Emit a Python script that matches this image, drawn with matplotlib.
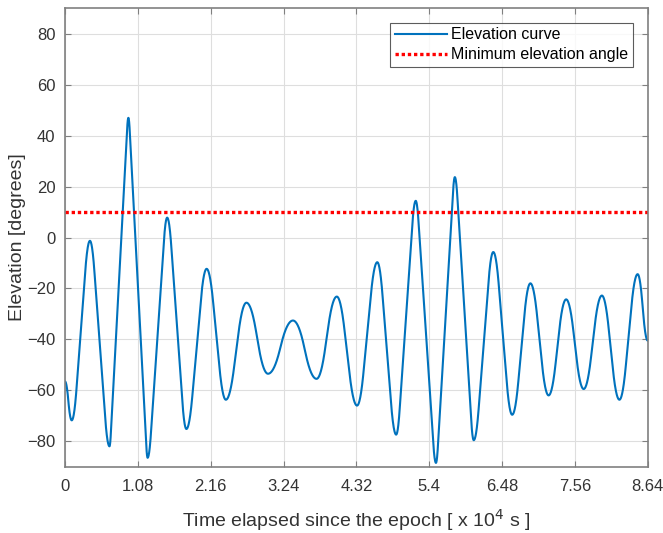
import matplotlib
matplotlib.use("Agg")
import matplotlib.pyplot as plt
import numpy as np

# extrema of the elevation curve (time in 1e4 s, elevation in deg)
peak_times = [0.00, 0.10, 0.37, 0.66, 0.94, 1.225, 1.515, 1.80, 2.10, 2.385, 2.69,
              3.01, 3.38, 3.73, 4.03, 4.33, 4.63, 4.91, 5.20, 5.50, 5.78, 6.06,
              6.35, 6.63, 6.90, 7.17, 7.43, 7.69, 7.96, 8.22, 8.49, 8.64]
peak_elev = [-56.5, -71.8, -1.3, -82.0, 47.0, -86.5, 7.8, -75.2, -12.3, -63.7, -25.6,
             -53.5, -32.6, -55.5, -23.2, -66.0, -9.7, -77.4, 14.4, -88.5, 23.7, -79.6,
             -5.7, -69.6, -18.0, -62.0, -24.3, -59.5, -22.8, -63.7, -14.4, -40.5]
min_elevation = 10.0
x_ticks = [0, 1.08, 2.16, 3.24, 4.32, 5.4, 6.48, 7.56, 8.64]
x_tick_labels = ["0", "1.08", "2.16", "3.24", "4.32", "5.4", "6.48", "7.56", "8.64"]
y_ticks = [-80, -60, -40, -20, 0, 20, 40, 60, 80]

plt.rcParams["font.family"] = ["Liberation Sans", "DejaVu Sans"]


def ease(s, c):
    # linear middle with rounded (quadratic) ends; c = fraction rounded at each end
    v = 1.0 / (1.0 - c)
    w = v * (c / 2 + (s - c))
    lo = s < c
    hi = s > 1 - c
    w[lo] = v * s[lo] ** 2 / (2 * c)
    w[hi] = 1 - v * (1 - s[hi]) ** 2 / (2 * c)
    return w


def smooth_path(xs, ys, n=100):
    # big swings look almost triangular, small ones rounded
    out_x, out_y = [], []
    for i in range(len(xs) - 1):
        s = np.linspace(0, 1, n, endpoint=False)
        amp = abs(ys[i + 1] - ys[i])
        c = float(np.clip(0.55 - amp / 250, 0.07, 0.5))
        out_x.append(xs[i] + (xs[i + 1] - xs[i]) * s)
        out_y.append(ys[i] + (ys[i + 1] - ys[i]) * ease(s, c))
    out_x.append([xs[-1]])
    out_y.append([ys[-1]])
    return np.concatenate(out_x), np.concatenate(out_y)


t, e = smooth_path(peak_times, peak_elev)

fig = plt.figure(figsize=(6.63, 5.33), dpi=100)
ax = fig.add_axes([0.098, 0.1244, 0.879, 0.86])

ax.plot(t, e, color="#0072BD", linewidth=1.5, label="Elevation curve")
ax.axhline(min_elevation, color="#FF0000", linestyle=(0, (1, 0.85)), linewidth=2.4,
           label="Minimum elevation angle")

ax.set_xlim(0, 8.64)
ax.set_ylim(-90, 90)
ax.set_xticks(x_ticks)
ax.set_xticklabels(x_tick_labels)
ax.set_yticks(y_ticks)
ax.grid(True, color="#dedede", linewidth=0.8)
ax.set_axisbelow(True)
ax.tick_params(direction="in", length=4, colors="#808080", labelcolor="#333333",
               labelsize=12, top=True, right=True)
ax.tick_params(axis="x", pad=9)
ax.tick_params(axis="y", pad=7)
for sp in ax.spines.values():
    sp.set_color("#808080")
    sp.set_linewidth(1.2)

ax.set_xlabel("Time elapsed since the epoch [ x 10$^4$ s ]", fontsize=14,
              color="#333333", labelpad=9)
ax.set_ylabel("Elevation [degrees]", fontsize=14, color="#333333", labelpad=0.5)

leg = ax.legend(loc="upper right", fontsize=11.5, frameon=True, fancybox=False,
                borderpad=0.3, handlelength=3.3, handletextpad=0.25, labelspacing=0.3,
                borderaxespad=0.9)
leg.get_frame().set_edgecolor("#333333")
leg.get_frame().set_linewidth(0.8)

fig.savefig("out.png", dpi=100)
